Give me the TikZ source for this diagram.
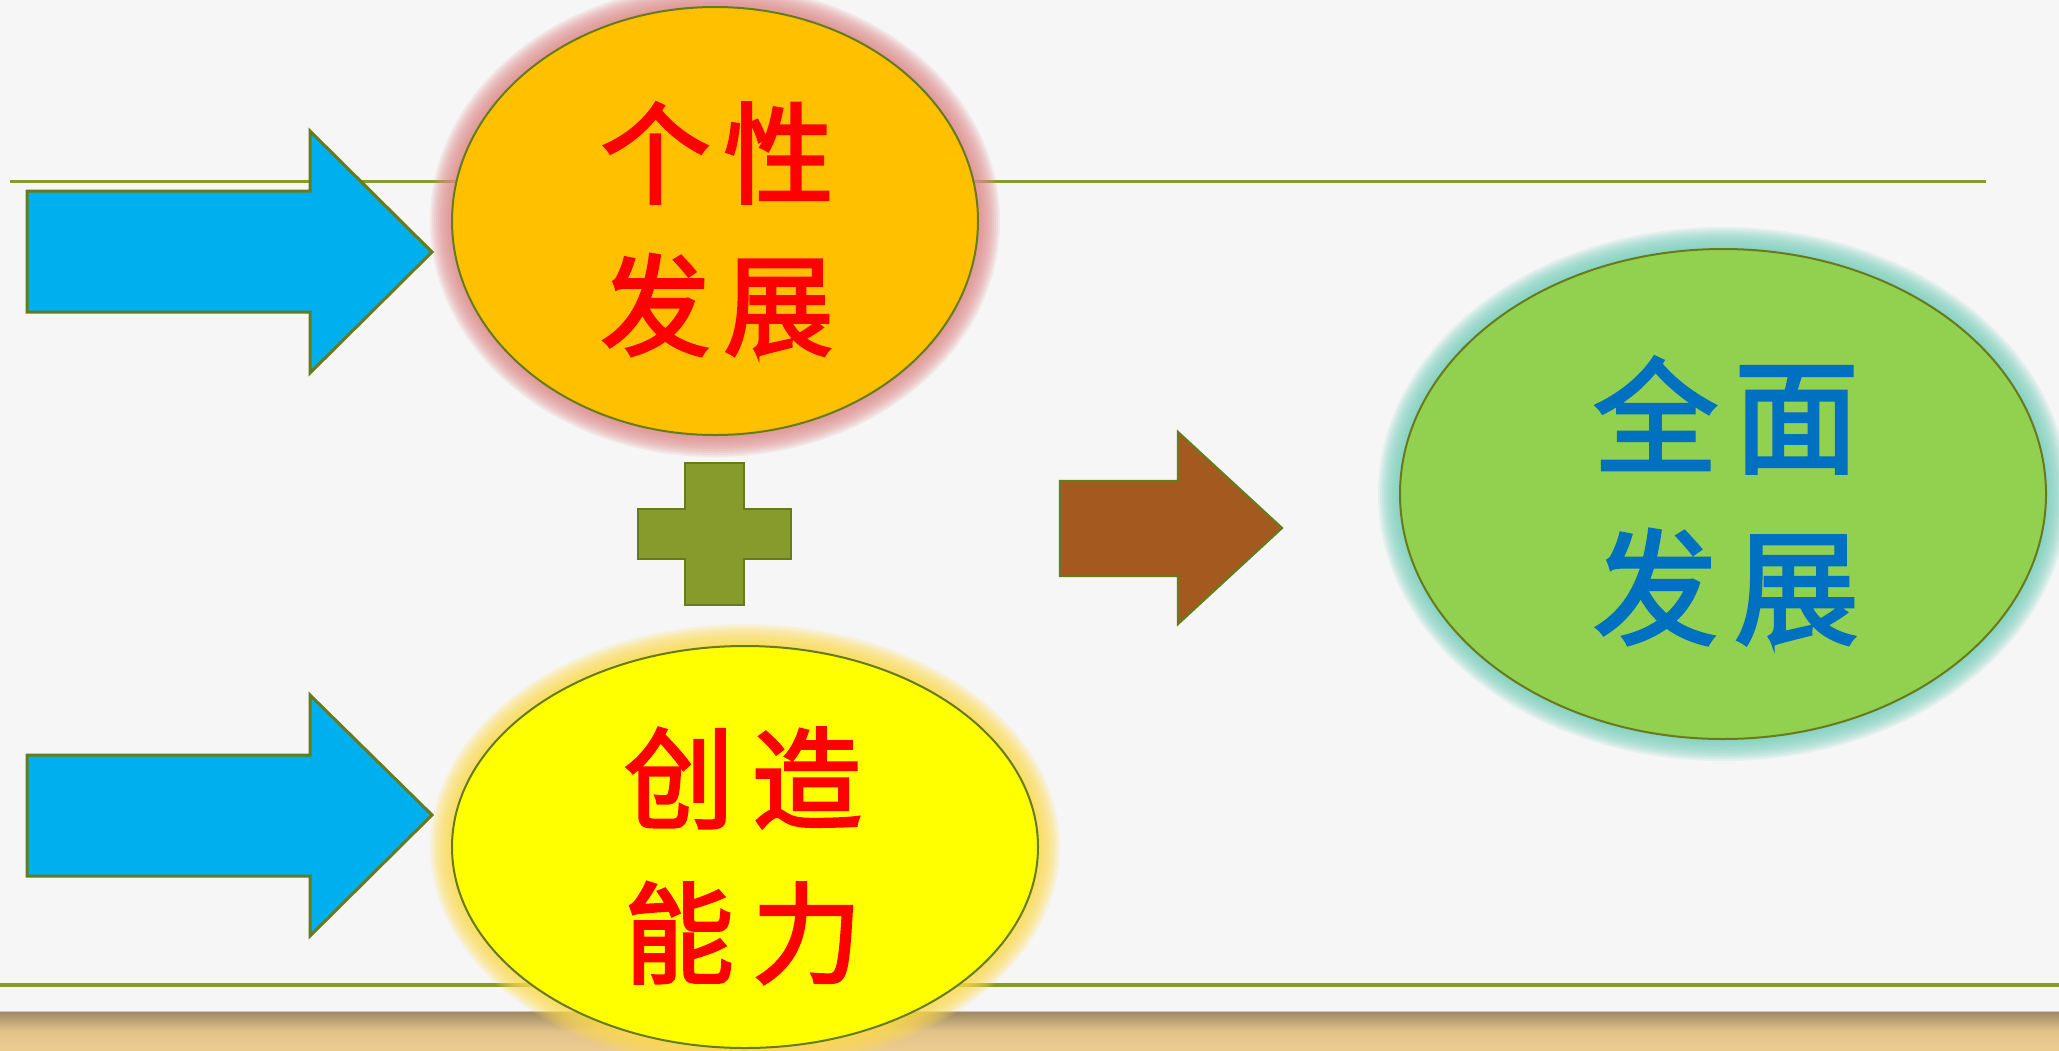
\documentclass[tikz,border=0pt]{standalone}
\usepackage{fontspec}
\usetikzlibrary{shapes.geometric}
\newfontfamily\cjk[FakeBold=2.5]{Noto Sans CJK SC}
\definecolor{bg}{HTML}{F6F6F6}
\definecolor{rulecol}{HTML}{8A9B2C}
\definecolor{edgecol}{HTML}{677A1C}
\definecolor{sky}{HTML}{00B0EE}
\definecolor{brownarrow}{HTML}{A45A1F}
\definecolor{plusgreen}{HTML}{879A2C}
\definecolor{orangefill}{HTML}{FFC000}
\definecolor{yellowfill}{HTML}{FFFF00}
\definecolor{greenfill}{HTML}{92D050}
\definecolor{glowred}{HTML}{E08C8C}
\definecolor{glowyellow}{HTML}{FFDC50}
\definecolor{glowteal}{HTML}{78D0BC}
\definecolor{txtred}{HTML}{FF0000}
\definecolor{txtblue}{HTML}{0070C0}
\definecolor{woodtop}{HTML}{A08A64}
\definecolor{woodbot}{HTML}{EDCC90}
\tikzset{
  shapeline/.style={draw=edgecol, line width=3pt, line join=miter},
  bubble/.style={ellipse, draw=edgecol, line width=2pt, inner sep=0pt},
  redtxt/.style={text=txtred, inner sep=0pt, font=\cjk\fontsize{110pt}{110pt}\selectfont},
  bluetxt/.style={text=txtblue, inner sep=0pt, font=\cjk\fontsize{125pt}{125pt}\selectfont},
  rulestyle/.style={draw=rulecol, line width=3pt}
}
\begin{document}
\begin{tikzpicture}[x=1pt,y=-1pt]
\useasboundingbox (0,0) rectangle (2059,1050);
% background
\fill[bg] (0,0) rectangle (2059,1050);
\shade[top color=woodtop, bottom color=woodbot, middle color=woodbot!85!woodtop] (0,1012) rectangle (2059,1050);
\draw[black!22, line width=1.2pt] (0,1011.5) -- (2059,1011.5);
% rules
\draw[rulestyle] (10,181) -- (1986,181);
\draw[rulestyle, line width=3.5pt] (0,985) -- (2059,985);
% glows
\foreach \i in {1,...,12}{
  \fill[glowred, opacity=0.15] (715,221) ellipse ({(261+2*\i)*1pt} and {(212+2*\i)*1pt});
  \fill[glowyellow, opacity=0.15] (745,847) ellipse ({(291+2*\i)*1pt} and {(199+2*\i)*1pt});
  \fill[glowteal, opacity=0.15] (1723,494) ellipse ({(321+2*\i)*1pt} and {(243+2*\i)*1pt});
}
% ellipses
\node[bubble, fill=orangefill, minimum width=526pt, minimum height=428pt] (gexing) at (715,221) {};
\node[bubble, fill=yellowfill, minimum width=586pt, minimum height=402pt] (chuangzao) at (745,847) {};
\node[bubble, fill=greenfill, minimum width=646pt, minimum height=490pt] (quanmian) at (1723,494) {};
% arrows
\draw[shapeline, fill=sky] (27,191) -- (310,191) -- (310,131) -- (432,252) -- (310,373) -- (310,312) -- (27,312) -- cycle;
\draw[shapeline, fill=sky] (27,755) -- (310,755) -- (310,695) -- (432,815) -- (310,936) -- (310,876) -- (27,876) -- cycle;
\draw[shapeline, line width=2.2pt, fill=brownarrow] (1060,481) -- (1178,481) -- (1178,432) -- (1282,528) -- (1178,624) -- (1178,576) -- (1060,576) -- cycle;
% plus
\draw[shapeline, line width=2.2pt, fill=plusgreen] (685,463) -- (744,463) -- (744,509) -- (791,509) -- (791,559) -- (744,559) -- (744,605) -- (685,605) -- (685,559) -- (638,559) -- (638,509) -- (685,509) -- cycle;
% texts
\node[redtxt] (gexing1) at (717,153) {个\hspace{13pt}性};
\node[redtxt] (gexing2) at (717,305) {发\hspace{13pt}展};
\node[redtxt] (chuang1) at (743,778) {创\hspace{18pt}造};
\node[redtxt] (chuang2) at (743,933) {能\hspace{18pt}力};
\node[bluetxt] (quan1) at (1726,415) {全\hspace{16pt}面};
\node[bluetxt] (quan2) at (1726,587) {发\hspace{16pt}展};
\end{tikzpicture}
\end{document}
